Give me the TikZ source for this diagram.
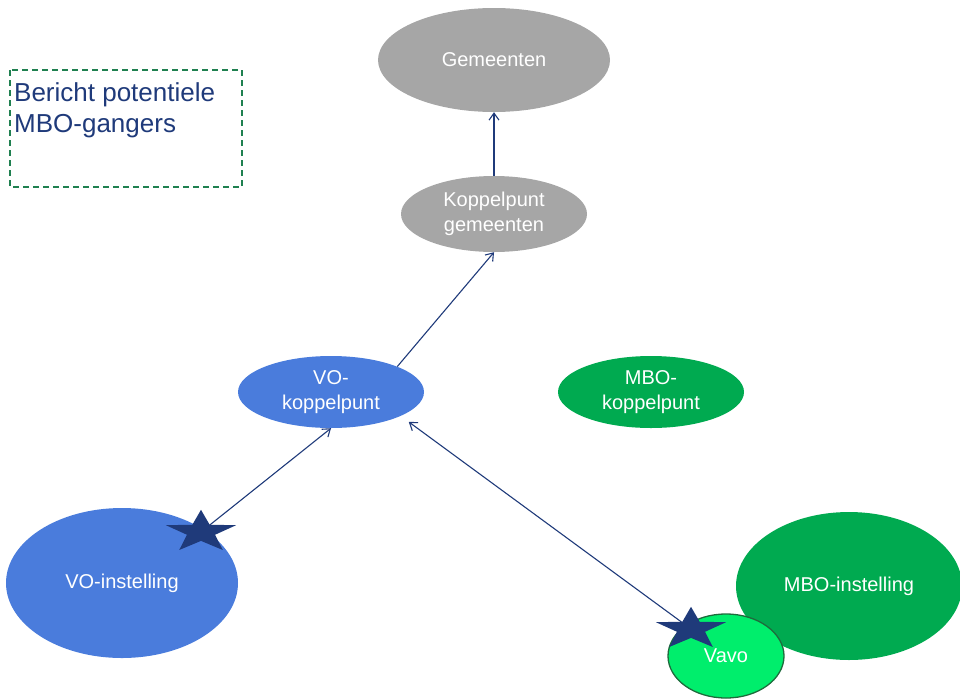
\documentclass[tikz,border=0pt]{standalone}
\usepackage{fontspec}
\setmainfont{Liberation Sans}
\usepackage{tikz}
\usetikzlibrary{arrows.meta, shapes.geometric}
\definecolor{gemgray}{HTML}{A6A6A6}
\definecolor{vobluefill}{HTML}{4A7CDC}
\definecolor{mbogreen}{HTML}{00AA50}
\definecolor{vavogreen}{HTML}{00EE6C}
\definecolor{vavoedge}{HTML}{1E6B3C}
\definecolor{navy}{HTML}{1F3A7A}
\definecolor{boxgreen}{HTML}{1F8050}
\tikzset{
  blob/.style={ellipse, inner sep=0pt, text=white, align=center,
    font=\fontsize{20}{25}\selectfont},
  gem state/.style={blob, fill=gemgray},
  vo state/.style={blob, fill=vobluefill},
  mbo state/.style={blob, fill=mbogreen},
  vavo state/.style={blob, fill=vavogreen, draw=vavoedge, line width=1.3pt},
  link/.style={->, draw=navy, line width=1.1pt,
    >={Straight Barb[length=7pt, width=10pt]}},
  navystar/.style={star, star points=5, star point ratio=2.5, fill=navy,
    minimum size=74pt, inner sep=0pt, yscale=0.6, transform shape}
}

\begin{document}
\begin{tikzpicture}[x=1pt, y=-1pt]
\useasboundingbox (0,0) rectangle (960,699);

% legend box
\draw[boxgreen, dashed, line width=1.3pt, dash pattern=on 6pt off 4pt]
  (10,70) rectangle (242,187);
\node[anchor=north west, inner sep=0pt, text=navy, align=left,
  font=\fontsize{26}{31.5}\selectfont] (bericht) at (14,82)
  {Bericht potentiele\\MBO-gangers};

% gemeenten
\node[gem state, minimum width=232pt, minimum height=104pt] (gem) at (494,60) {\raisebox{-2pt}{Gemeenten}};
\node[gem state, minimum width=186pt, minimum height=76pt] (kpgem) at (494,214) {Koppelpunt\\gemeenten};

% koppelpunten
\node[vo state, minimum width=186pt, minimum height=72pt] (vokp) at (331,392) {VO-\\koppelpunt};
\node[mbo state, minimum width=186pt, minimum height=72pt] (mbokp) at (651,392) {MBO-\\koppelpunt};

% instellingen
\node[vo state, minimum width=232pt, minimum height=150pt] (voinst) at (122,583) {\raisebox{-2pt}{VO-instelling}};
\node[mbo state, minimum width=226pt, minimum height=148pt] (mboinst) at (849,586) {\raisebox{-2pt}{MBO-instelling}};
\node[vavo state, minimum width=116pt, minimum height=84pt] (vavo) at (726,656) {\raisebox{-5pt}{Vavo}};

\coordinate (s1) at (201,532);
\coordinate (s2) at (691,629);

\draw[link] (kpgem) -- (gem);
\draw[link] (vokp.21.5) -- (kpgem.south);
\draw[link] (s1) -- (vokp.south);
\draw[link, shorten >=10pt] (s2) -- (vokp.-19);
\node[navystar] (star1) at (s1) {};
\node[navystar] (star2) at (s2) {};
\end{tikzpicture}
\end{document}
